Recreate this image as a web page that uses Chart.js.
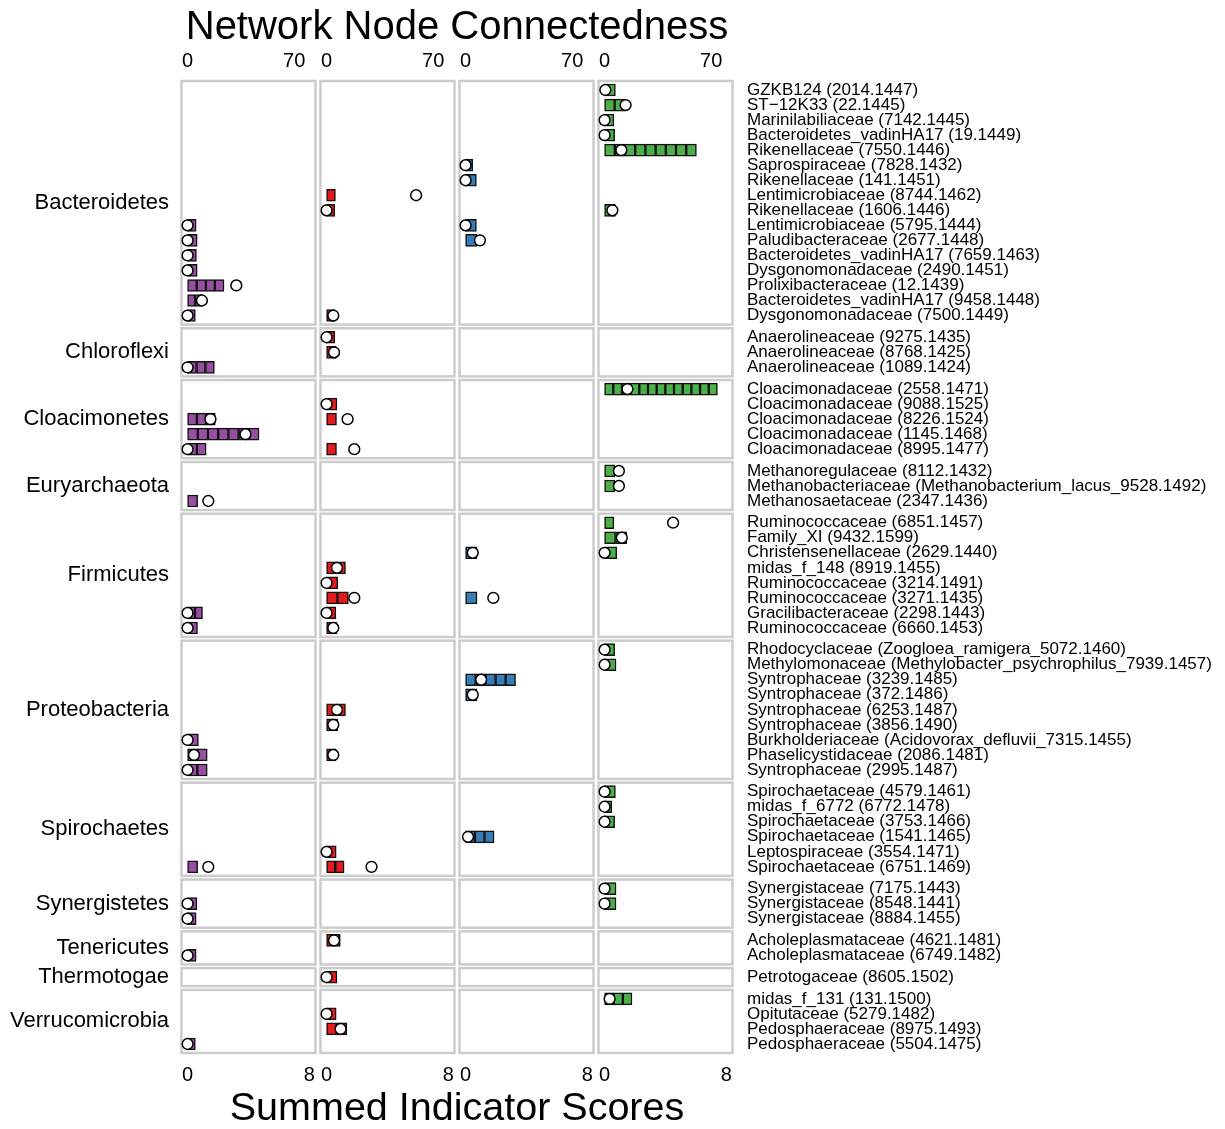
<!DOCTYPE html>
<html>
<head>
<meta charset="utf-8">
<title>Network Node Connectedness</title>
<script src="https://cdn.jsdelivr.net/npm/chart.js@4.4.1/dist/chart.umd.min.js"></script>
<style>
  html, body { margin: 0; padding: 0; background: #fff; }
  canvas { display: block; }
</style>
</head>
<body>
<canvas id="myChart" width="1225" height="1129"></canvas>
<script>
const _ = null;

const phyla = ["Bacteroidetes", "Chloroflexi", "Cloacimonetes", "Euryarchaeota", "Firmicutes", "Proteobacteria",
  "Spirochaetes", "Synergistetes", "Tenericutes", "Thermotogae", "Verrucomicrobia"];
const phylumSizes = [16, 3, 5, 3, 8, 9, 6, 3, 2, 1, 4];

const taxa = [
  "GZKB124 (2014.1447)", "ST\u221212K33 (22.1445)", "Marinilabiliaceae (7142.1445)", "Bacteroidetes_vadinHA17 (19.1449)",
  "Rikenellaceae (7550.1446)", "Saprospiraceae (7828.1432)", "Rikenellaceae (141.1451)", "Lentimicrobiaceae (8744.1462)",
  "Rikenellaceae (1606.1446)", "Lentimicrobiaceae (5795.1444)", "Paludibacteraceae (2677.1448)", "Bacteroidetes_vadinHA17 (7659.1463)",
  "Dysgonomonadaceae (2490.1451)", "Prolixibacteraceae (12.1439)", "Bacteroidetes_vadinHA17 (9458.1448)", "Dysgonomonadaceae (7500.1449)",
  "Anaerolineaceae (9275.1435)", "Anaerolineaceae (8768.1425)", "Anaerolineaceae (1089.1424)",
  "Cloacimonadaceae (2558.1471)", "Cloacimonadaceae (9088.1525)", "Cloacimonadaceae (8226.1524)", "Cloacimonadaceae (1145.1468)",
  "Cloacimonadaceae (8995.1477)",
  "Methanoregulaceae (8112.1432)", "Methanobacteriaceae (Methanobacterium_lacus_9528.1492)", "Methanosaetaceae (2347.1436)",
  "Ruminococcaceae (6851.1457)", "Family_XI (9432.1599)", "Christensenellaceae (2629.1440)", "midas_f_148 (8919.1455)",
  "Ruminococcaceae (3214.1491)", "Ruminococcaceae (3271.1435)", "Gracilibacteraceae (2298.1443)", "Ruminococcaceae (6660.1453)",
  "Rhodocyclaceae (Zoogloea_ramigera_5072.1460)", "Methylomonaceae (Methylobacter_psychrophilus_7939.1457)",
  "Syntrophaceae (3239.1485)", "Syntrophaceae (372.1486)", "Syntrophaceae (6253.1487)", "Syntrophaceae (3856.1490)",
  "Burkholderiaceae (Acidovorax_defluvii_7315.1455)", "Phaselicystidaceae (2086.1481)", "Syntrophaceae (2995.1487)",
  "Spirochaetaceae (4579.1461)", "midas_f_6772 (6772.1478)", "Spirochaetaceae (3753.1466)", "Spirochaetaceae (1541.1465)",
  "Leptospiraceae (3554.1471)", "Spirochaetaceae (6751.1469)",
  "Synergistaceae (7175.1443)", "Synergistaceae (8548.1441)", "Synergistaceae (8884.1455)",
  "Acholeplasmataceae (4621.1481)", "Acholeplasmataceae (6749.1482)",
  "Petrotogaceae (8605.1502)",
  "midas_f_131 (131.1500)", "Opitutaceae (5279.1482)", "Pedosphaeraceae (8975.1493)", "Pedosphaeraceae (5504.1475)"
];

// indicator scores per taxon, one value per stacked square (null = not an indicator in that column)
const scoresA = [
  _, _, _, _, _, _, _, _, _, [0.56], [0.63], [0.58], [0.63], [0.6, 0.6, 0.59, 0.6], [0.49, 0.49], [0.51],
  _, _, [0.59, 0.58, 0.59],
  _, _, [0.61, 0.6, 0.61], [0.67, 0.67, 0.67, 0.67, 0.67, 0.67, 0.67], [0.61, 0.61],
  _, _, [0.66],
  _, _, _, _, _, _, [0.49, 0.49], [0.65],
  _, _, _, _, _, _, [0.71], [0.64, 0.65], [0.64, 0.65],
  _, _, _, _, _, [0.66],
  _, [0.61], [0.56],
  _, [0.56],
  _,
  _, _, _, [0.51]
];
const scoresB = [
  _, _, _, _, _, _, _, [0.58], [0.54], _, _, _, _, _, _, [0.54],
  [0.54], [0.63], _,
  _, [0.68], [0.65], _, [0.65],
  _, _, _,
  _, _, _, [0.62, 0.62], [0.73], [0.71, 0.72], [0.61], [0.68],
  _, _, _, _, [0.62, 0.62], [0.73], _, [0.63], _,
  _, _, _, _, [0.63], [0.57, 0.58],
  _, _, _,
  [0.9], _,
  [0.68],
  _, [0.63], [0.66, 0.67], _
];
const scoresC = [
  _, _, _, _, _, [0.47], [0.71], _, _, [0.71], [0.75], _, _, _, _, _,
  _, _, _,
  _, _, _, _, _,
  _, _, _,
  _, _, [0.75], _, _, [0.75], _, _,
  _, _, [0.66, 0.66, 0.65, 0.66, 0.65], [0.75], _, _, _, _, _,
  _, _, _, [0.62, 0.62, 0.63], _, _,
  _, _, _,
  _, _,
  _,
  _, _, _, _
];
const scoresD = [
  [0.71], [0.66, 0.67], [0.61], [0.66], [0.67, 0.67, 0.67, 0.67, 0.67, 0.67, 0.67, 0.67, 0.67], _, _, _, [0.71], _, _, _, _, _, _, _,
  _, _, _,
  [0.57, 0.57, 0.57, 0.57, 0.57, 0.57, 0.57, 0.57, 0.57, 0.57, 0.57, 0.57, 0.57], _, _, _, _,
  [0.66], [0.66], _,
  [0.61], [0.72, 0.73], [0.8], _, _, _, _, _,
  [0.66], [0.75], _, _, _, _, _, _, _,
  [0.71], [0.47], [0.66], _, _, _,
  [0.75], [0.75], _,
  _, _,
  _,
  [0.6, 0.6, 0.6], _, _, _
];

// network node connectedness (degree) of the same taxa
const connA = [
  _, _, _, _, _, _, _, _, _, 0, 0, 0, 0, 32, 9.4, 0,
  _, _, 0,
  _, _, 15, 38, 0,
  _, _, 13.6,
  _, _, _, _, _, _, 0, 0,
  _, _, _, _, _, _, 0, 4.2, 0,
  _, _, _, _, _, 13.6,
  _, 0, 0,
  _, 0,
  _,
  _, _, _, 0
];
const connB = [
  _, _, _, _, _, _, _, 58.8, 0, _, _, _, _, _, _, 4.4,
  0, 4.9, _,
  _, 0, 13.8, _, 18.2,
  _, _, _,
  _, _, _, 6.8, 0, 18.2, 0, 4.4,
  _, _, _, _, 6.8, 4.4, _, 4.4, _,
  _, _, _, _, 0, 29.5,
  _, _, _,
  4.9, _,
  0,
  _, 0, 9.2, _
];
const connC = [
  _, _, _, _, _, 0, 0, _, _, 0, 9.4, _, _, _, _, _,
  _, _, _,
  _, _, _, _, _,
  _, _, _,
  _, _, 4.7, _, _, 18.2, _, _,
  _, _, 10.2, 4.7, _, _, _, _, _,
  _, _, _, 1.6, _, _,
  _, _, _,
  _, _,
  _,
  _, _, _, _
];
const connD = [
  0.5, 13.8, 0, 0, 11, _, _, _, 5.1, _, _, _, _, _, _, _,
  _, _, _,
  15, _, _, _, _,
  9.4, 9.4, _,
  45, 11.3, 0, _, _, _, _, _,
  0, 0, _, _, _, _, _, _, _,
  0, 0, 0, _, _, _,
  0, 0, _,
  _, _,
  _,
  3.3, _, _, _
];

const colColors = ["#984EA3", "#E41A1C", "#377EB8", "#4DAF4A"];
const scoreCols = [scoresA, scoresB, scoresC, scoresD];
const connCols = [connA, connB, connC, connD];

Chart.defaults.font.family = "'Liberation Sans', Arial, Helvetica, sans-serif";
Chart.defaults.color = "#000";

// y positions: one unit per taxon, panels padded by 0.6 and split by a small gap
const panelGap = 0.245;
const panelStart = [];
const rowPos = [];
let cursor = 0;
phylumSizes.forEach(n => {
  panelStart.push(cursor);
  for (let i = 0; i < n; i++) rowPos.push(cursor + 0.6 + i);
  cursor += n + 0.2 + panelGap;
});
const yMax = cursor - panelGap;
const phylumMid = panelStart.map((s, p) => s + (phylumSizes[p] + 0.2) / 2);

const datasets = [];
scoreCols.forEach((scores, c) => {
  const depth = Math.max(...scores.map(s => s ? s.length : 0));
  for (let k = 0; k < depth; k++) {
    datasets.push({
      type: "bar",
      indexAxis: "y",
      xAxisID: "b" + c,
      yAxisID: "y",
      order: 1,
      grouped: false,
      barThickness: 12,
      data: scores
        .map((s, r) => (s && s.length > k ? { x: s[k], y: rowPos[r] } : null))
        .filter(Boolean),
      backgroundColor: colColors[c],
      borderColor: "#111",
      borderWidth: 1.5,
      borderSkipped: false
    });
  }
  datasets.push({
    type: "scatter",
    xAxisID: "t" + c,
    yAxisID: "y",
    order: 0,
    data: connCols[c]
      .map((v, r) => (v === null ? null : { x: v, y: rowPos[r] }))
      .filter(Boolean),
    pointRadius: 5.4,
    pointBackgroundColor: "#fff",
    pointBorderColor: "#000",
    pointBorderWidth: 1.5
  });
});

const noGrid = { display: false, drawTicks: false };
const noBorder = { display: false };

const scales = {
  y: {
    type: "linear", axis: "y", position: "right", reverse: true, offset: false,
    min: 0, max: yMax,
    grid: noGrid, border: noBorder,
    afterBuildTicks: s => { s.ticks = rowPos.map(v => ({ value: v })); },
    afterFit: s => { s.width = 490; },
    ticks: { autoSkip: false, padding: 12, font: { size: 17 }, callback: (v, i) => taxa[i] }
  },
  yp: {
    type: "linear", axis: "y", position: "left", reverse: true, offset: false,
    min: 0, max: yMax,
    grid: noGrid, border: noBorder,
    afterBuildTicks: s => { s.ticks = phylumMid.map(v => ({ value: v })); },
    afterFit: s => { s.width = 179; },
    ticks: { autoSkip: false, padding: 10, font: { size: 22 }, callback: (v, i) => phyla[i] }
  }
};
[0, 1, 2, 3].forEach(c => {
  scales["t" + c] = {
    type: "linear", axis: "x", position: "top", stack: "top", weight: 4 - c, offset: false,
    min: -5.64, max: 85.64,
    grid: noGrid, border: noBorder,
    afterBuildTicks: s => { s.ticks = [{ value: 0 }, { value: 70 }]; },
    afterFit: s => { s.height = 28.6; },
    ticks: { padding: 8, maxRotation: 0, font: { size: 20 } }
  };
  scales["b" + c] = {
    type: "linear", axis: "x", position: "bottom", stack: "bottom", stacked: true, weight: c + 1, offset: false,
    min: -0.564, max: 8.564,
    grid: noGrid, border: noBorder,
    afterBuildTicks: s => { s.ticks = [{ value: 0 }, { value: 8 }]; },
    afterFit: s => { s.height = 28; },
    ticks: { padding: 10, maxRotation: 0, font: { size: 20 } }
  };
});

// grey frame round every phylum x column panel
const panelFrames = {
  id: "panelFrames",
  beforeDatasetsDraw(chart) {
    const { ctx, scales: sc } = chart;
    ctx.save();
    ctx.strokeStyle = "#cccccc";
    ctx.lineWidth = 2.5;
    [0, 1, 2, 3].forEach(c => {
      const xs = sc["b" + c];
      const x0 = xs.getPixelForValue(-0.4);
      const x1 = xs.getPixelForValue(8.4);
      panelStart.forEach((s, p) => {
        const y0 = sc.y.getPixelForValue(s);
        const y1 = sc.y.getPixelForValue(s + phylumSizes[p] + 0.2);
        ctx.strokeRect(x0, y0, x1 - x0, y1 - y0);
      });
    });
    ctx.restore();
  }
};

const myChart = new Chart(document.getElementById("myChart").getContext("2d"), {
  type: "bar",
  data: { datasets },
  options: {
    responsive: false,
    animation: false,
    devicePixelRatio: 1,
    events: [],
    layout: { padding: 0 },
    plugins: {
      legend: { display: false },
      tooltip: { enabled: false },
      title: {
        display: true,
        text: "Network Node Connectedness",
        position: "top",
        fullSize: false,
        color: "#000",
        font: { size: 40, weight: "normal", lineHeight: 1.2 },
        padding: { top: 4.4, bottom: 0 }
      },
      subtitle: {
        display: true,
        text: "Summed Indicator Scores",
        position: "bottom",
        fullSize: false,
        color: "#000",
        font: { size: 39.5, weight: "normal", lineHeight: 1.0 },
        padding: { top: 8.5, bottom: 0 }
      }
    },
    scales
  },
  plugins: [panelFrames]
});
</script>
</body>
</html>
